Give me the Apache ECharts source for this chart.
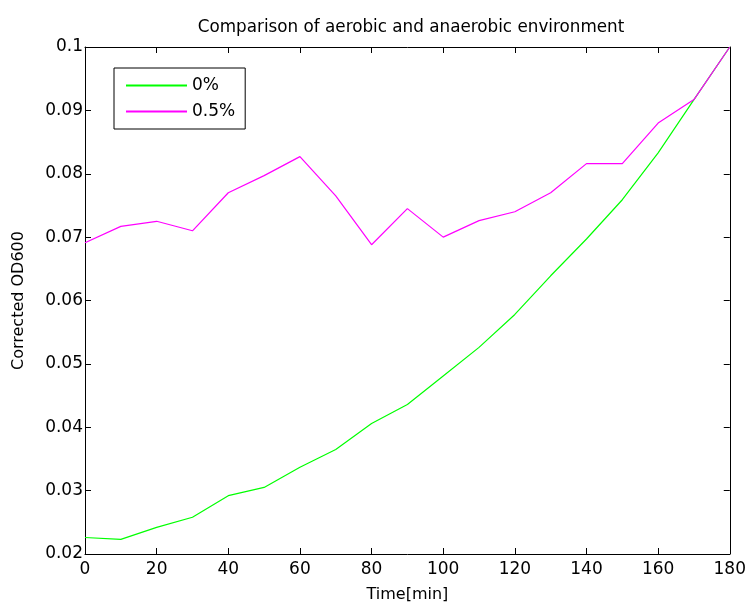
<!DOCTYPE html>
<html>
<head>
<meta charset="utf-8">
<script src="https://cdn.jsdelivr.net/npm/echarts@6/dist/echarts.min.js"></script>
<style>
  html, body { margin: 0; padding: 0; background: #fff; }
  #chart { width: 749px; height: 608px; }
</style>
</head>
<body>
<div id="chart"></div>
<script>
var times = [0, 10, 20, 30, 40, 50, 60, 70, 80, 90, 100, 110, 120, 130, 140, 150, 160, 170, 180]
var od0 = [0.0226, 0.0223, 0.0242, 0.0258, 0.0292, 0.0305, 0.0337, 0.0365, 0.0406, 0.0436,
  0.0481, 0.0526, 0.0578, 0.0639, 0.0697, 0.0759, 0.0833, 0.0917, 0.1]
var od05 = [0.0691, 0.0717, 0.0725, 0.0710, 0.0770, 0.0797, 0.0827, 0.0765, 0.0688, 0.0745,
  0.0700, 0.0726, 0.0740, 0.0770, 0.0816, 0.0816, 0.0880, 0.0917, 0.1]
var seriesNames = ['0%', '0.5%']

function pairs(ys) {
  return times.map(function (t, i) {
    return [t, ys[i]]
  })
}

var font = 'DejaVu Sans'
var dom = document.getElementById('chart')
var myChart = echarts.init(dom)

// box axes like matlab: ticks inside on all four sides
function boxAxis(pos, showLabel, extra) {
  var ax = {
    type: 'value',
    position: pos,
    axisLine: { show: true, onZero: false, lineStyle: { color: '#000', width: 1 } },
    axisTick: { show: true, inside: true, length: 6, lineStyle: { color: '#000' } },
    splitLine: { show: false },
    axisLabel: { show: showLabel, color: '#000', fontFamily: font, fontSize: 17 }
  }
  return Object.assign(ax, extra)
}

option = {
  animation: false,
  title: {
    text: 'Comparison of aerobic and anaerobic environment',
    left: 406,
    top: 14,
    textAlign: 'center',
    textStyle: { fontWeight: 'normal', color: '#000', fontFamily: font, fontSize: 16.8 }
  },
  legend: {
    data: seriesNames,
    orient: 'vertical',
    left: 114,
    top: 68,
    padding: [9, 10, 9, 12],
    itemGap: 9,
    itemWidth: 61,
    itemHeight: 2,
    icon: 'rect',
    borderColor: '#000',
    borderWidth: 1,
    backgroundColor: '#fff',
    textStyle: { color: '#000', fontFamily: font, fontSize: 17 }
  },
  grid: { left: 85, right: 18, top: 47, bottom: 53 },
  xAxis: [
    boxAxis('bottom', true, {
      min: 0, max: 180, interval: 20,
      name: 'Time[min]', nameLocation: 'middle', nameGap: 33,
      nameTextStyle: { color: '#000', fontFamily: font, fontSize: 16 },
      axisLabel: { show: true, color: '#000', fontFamily: font, fontSize: 17, margin: 7 }
    }),
    boxAxis('top', false, { min: 0, max: 180, interval: 20 })
  ],
  yAxis: [
    boxAxis('left', true, {
      min: 0.02, max: 0.1, interval: 0.01,
      name: 'Corrected OD600', nameLocation: 'middle', nameGap: 58,
      nameTextStyle: { color: '#000', fontFamily: font, fontSize: 16 },
      axisLabel: { show: true, color: '#000', fontFamily: font, fontSize: 17, margin: 2 }
    }),
    boxAxis('right', false, { min: 0.02, max: 0.1, interval: 0.01 })
  ],
  series: [
    {
      name: seriesNames[0],
      type: 'line',
      data: pairs(od0),
      showSymbol: false,
      color: '#00ff00',
      lineStyle: { width: 1.2, color: '#00ff00' }
    },
    {
      name: seriesNames[1],
      type: 'line',
      data: pairs(od05),
      showSymbol: false,
      color: '#ff00ff',
      lineStyle: { width: 1.2, color: '#ff00ff' }
    }
  ]
}
if (option && typeof option === 'object') {
  myChart.setOption(option, true)
}
</script>
</body>
</html>
